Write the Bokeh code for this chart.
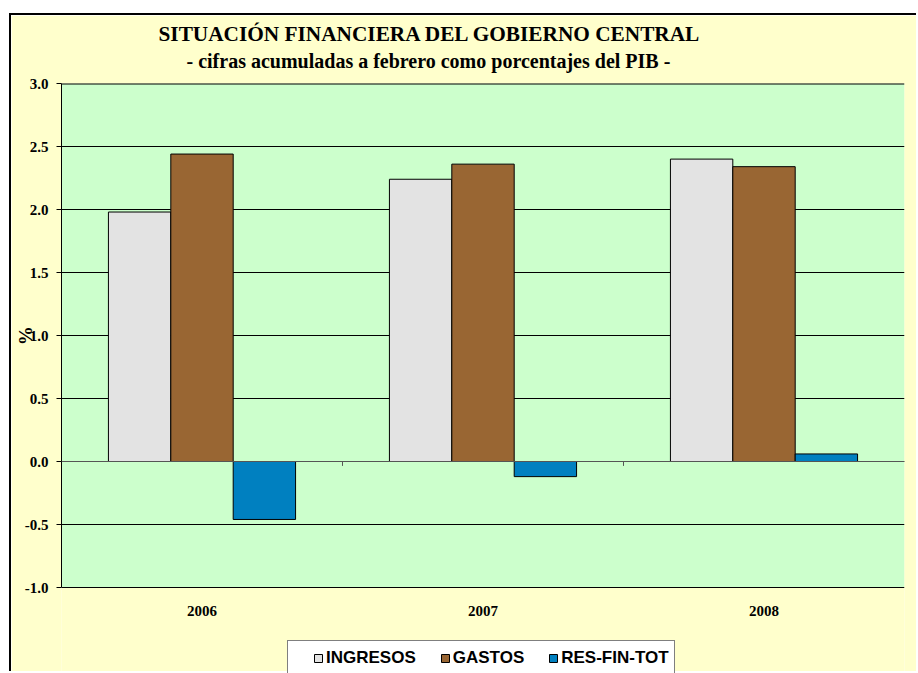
from bokeh.plotting import figure
from bokeh.models import (Range1d, FixedTicker, NumeralTickFormatter, Legend, Title,
                          LegendItem, Span, ColumnDataSource, BoxAnnotation)
from bokeh.transform import dodge
from bokeh.core.properties import value
from bokeh.embed import file_html
from bokeh.resources import INLINE

# ---- data ----
years = ["2006", "2007", "2008"]
ingresos = [1.98, 2.24, 2.40]
gastos = [2.44, 2.36, 2.34]
res_fin_tot = [-0.46, -0.12, 0.06]
series_names = ["INGRESOS", "GASTOS", "RES-FIN-TOT"]
y_ticks = [-1.0, -0.5, 0.0, 0.5, 1.0, 1.5, 2.0, 2.5, 3.0]
title_text = "SITUACIÓN FINANCIERA DEL GOBIERNO CENTRAL"
subtitle_text = "- cifras acumuladas a febrero como porcentajes del PIB -"
y_label = "%"

colors = ["#E3E3E3", "#996633", "#0080C0"]
SERIF = "Liberation Serif"
SANS = "Liberation Sans"
YELLOW = "#FFFFCC"
GREEN = "#CCFFCC"

# layout: plot area of the reference spans -1..3 over 504 px (126 px per unit);
# the frame continues down to the page bottom so the legend can sit inside it
Y_MIN, Y_MAX = y_ticks[0], y_ticks[-1]
FRAME_H = 590
Y_BOTTOM = Y_MAX - FRAME_H / 126.0
LABEL_Y = Y_MIN - 0.187
# the frame is taller than the plot area, so lift the axis title to the
# middle of the -1..3 band (non-breaking spaces lead the rotated text)
LABEL_LIFT = "\u00a0" * 18

source = ColumnDataSource(dict(year=years, ingresos=ingresos, gastos=gastos, res=res_fin_tot,
                               label_y=[LABEL_Y] * len(years)))
bounds = ColumnDataSource(dict(b=years[1:], y0=[0.0] * (len(years) - 1), y1=[-0.035] * (len(years) - 1)))

p = figure(x_range=years, y_range=Range1d(Y_BOTTOM, Y_MAX), width=907, height=658,
           output_backend="svg", toolbar_location=None, x_axis_location=None,
           min_border_left=50, min_border_right=14, min_border_top=68, min_border_bottom=0,
           background_fill_color=YELLOW, border_fill_color=YELLOW, outline_line_color=None)
p.styles = {"margin-left": "9px", "margin-top": "13px",
            "border-left": "2px solid black", "border-top": "2px solid black"}

# plot-area fill (green) between -1 and 3
p.add_layout(BoxAnnotation(bottom=Y_MIN, top=Y_MAX, fill_color=GREEN, fill_alpha=1,
                           line_color=None, level="image"))

# titles: p.title is the outer one, the added Title sits next to the frame
p.title.text = title_text
p.title.align = "left"
p.title.offset = 97
p.title.standoff = -21
p.title.text_font = SERIF
p.title.text_font_style = "bold"
p.title.text_font_size = "21.3px"
p.title.text_color = "black"
p.add_layout(Title(text=subtitle_text, align="left", offset=125, standoff=24,
                   text_font=SERIF, text_font_style="bold", text_font_size="20px",
                   text_color="black"), "above")

# grid
p.xgrid.grid_line_color = None
p.ygrid.grid_line_color = "black"
p.ygrid.grid_line_width = 1
p.ygrid.ticker = FixedTicker(ticks=y_ticks)
p.add_layout(Span(location=Y_MAX, dimension="width", line_color="black", line_width=2))

# y axis
p.yaxis.bounds = (Y_MIN, Y_MAX)
p.yaxis.ticker = FixedTicker(ticks=y_ticks)
p.yaxis.formatter = NumeralTickFormatter(format="0.0")
p.yaxis.axis_line_color = "black"
p.yaxis.major_tick_line_color = "black"
p.yaxis.major_tick_in = 0
p.yaxis.major_tick_out = 5
p.yaxis.minor_tick_line_color = None
p.yaxis.major_label_standoff = 8
p.yaxis.major_label_text_font = SERIF
p.yaxis.major_label_text_font_style = "bold"
p.yaxis.major_label_text_font_size = "15px"
p.yaxis.major_label_text_color = "black"
p.yaxis.axis_label = LABEL_LIFT + y_label
p.yaxis.axis_label_standoff = -14
p.yaxis.axis_label_text_font = SERIF
p.yaxis.axis_label_text_font_style = "bold"
p.yaxis.axis_label_text_font_size = "19px"
p.yaxis.axis_label_text_color = "black"

# bars
bw = 0.222
r1 = p.vbar(x=dodge("year", -bw, range=p.x_range), top="ingresos", bottom=0, width=bw,
            source=source, fill_color=colors[0], line_color="black", line_width=1)
r2 = p.vbar(x=dodge("year", 0.0, range=p.x_range), top="gastos", bottom=0, width=bw,
            source=source, fill_color=colors[1], line_color="black", line_width=1)
r3 = p.vbar(x=dodge("year", bw, range=p.x_range), top="res", bottom=0, width=bw,
            source=source, fill_color=colors[2], line_color="black", line_width=1)

# category axis crossing at zero
p.add_layout(Span(location=0, dimension="width", line_color="#555555", line_width=1))
p.segment(x0=dodge("b", -0.5, range=p.x_range), x1=dodge("b", -0.5, range=p.x_range),
          y0="y0", y1="y1", source=bounds, line_color="#555555", line_width=1)

# category labels under the plot area
p.text(x="year", y="label_y", text="year", source=source, text_align="center",
       text_baseline="middle", text_font=value(SERIF), text_font_style="bold",
       text_font_size="15px", text_color="black")

# legend
legend = Legend(items=[LegendItem(label=series_names[0], renderers=[r1]),
                       LegendItem(label=series_names[1], renderers=[r2]),
                       LegendItem(label=series_names[2], renderers=[r3])],
                orientation="horizontal", location=(226, -2), margin=0, padding=5,
                spacing=24, glyph_width=10, glyph_height=10, label_standoff=3,
                label_height=23, label_text_font=SANS, label_text_font_style="bold",
                label_text_font_size="17px", label_text_color="black",
                title=" ", title_location="left", title_standoff=19,
                title_text_font_size="1px",
                background_fill_color="white", background_fill_alpha=1,
                border_line_color="black", border_line_width=1)
p.add_layout(legend, "center")

open("out.html", "w").write(file_html(p, INLINE))
